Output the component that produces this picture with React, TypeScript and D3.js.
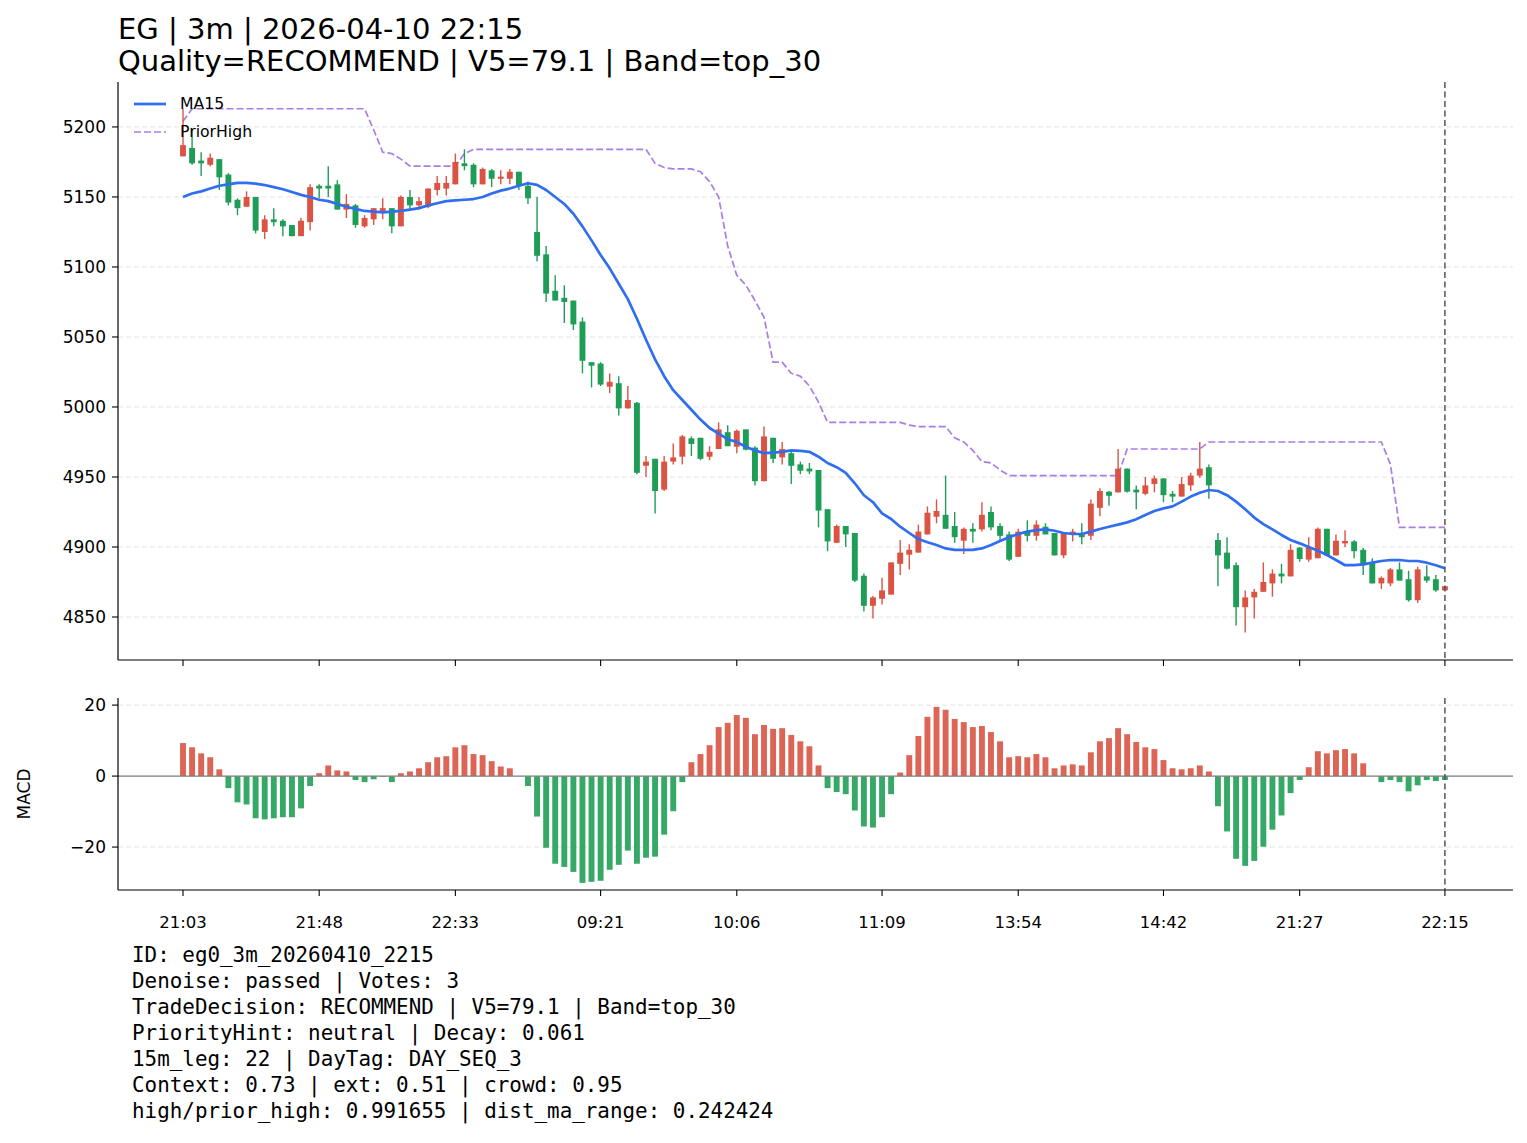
import * as d3 from 'd3';

// ---- data ----
const opens = [5179,5185,5176,5173,5177,5166,5148,5143,5150,5125,5134,5133,5130,5122,5132,5158,5158,5159,5141,5144,5129,5134,5140,5142,5129,5150,5144,5143,5155,5156,5159,5174,5173,5159,5169,5163,5163,5168,5158,5125,5109,5083,5078,5076,5061,5032,5031,5014.5,5017,4999,5003,4958,4963,4941,4961,4964.5,4977.6,4978,4964.5,4970,4982,4971.6,4984,4971,4947,4978,4964,4967,4959,4956,4955,4927,4903,4915,4910,4879.5,4858,4863,4866,4888,4894.5,4896,4909,4921.6,4923,4915,4904.5,4913,4912.6,4925,4915,4909,4893,4911,4908,4914.5,4910,4894,4909,4909,4908,4928,4939.5,4939,4956,4941,4938,4945,4949,4938,4936,4944,4951,4957,4905,4896,4887,4857,4864,4868,4874,4881,4879,4899.5,4891,4892,4913,4894,4902.6,4904,4898,4889,4874,4874,4884,4877,4862,4879,4877,4869];
const highs = [5213,5198,5182,5181,5177,5167,5149,5154,5150,5137,5142,5134,5130,5135,5159,5159,5172,5162,5152,5145,5137,5142,5149,5142,5151,5155,5150,5156,5165,5165,5181,5184,5174,5171,5170,5169,5170,5168,5161,5150,5115,5094,5087,5076,5064,5032,5032,5024,5022,5015,5003.5,4965,4963,4965,4974,4980,4979,4978,4972,4989,4987,4984,4984,4972,4986,4978,4975,4969,4961,4960,4955,4927,4916,4915,4910,4881,4865,4878,4889,4905,4902,4916,4929,4934,4951,4925,4914,4917,4932,4929,4917,4911,4913,4919,4919,4917,4910,4910,4913,4917,4934,4942,4940,4970,4956,4944,4950,4951,4949,4940,4950,4953,4975,4959,4910,4907,4889,4869,4870,4889,4884,4888,4902,4900,4907,4914,4913,4909,4912,4905,4899.5,4892,4879,4885,4889,4883,4886,4887,4880,4872];
const lows = [5179,5173,5165,5172,5155,5144,5137,5143,5124,5120,5129,5122,5122,5122,5126,5149,5150,5141,5135,5128,5128,5130,5134,5124,5129,5141,5141,5142,5151,5151,5159,5169,5157,5159,5157,5159,5159,5155,5145,5104,5075,5076,5060,5055,5024,5014,5015,5010,4994,4999,4952,4950,4924,4940,4959,4959,4965,4962,4962,4970,4972,4967,4969,4944,4947,4960,4959,4945,4952,4952,4914,4897,4903,4900,4875,4854,4849,4859,4866,4880,4884,4896,4909,4917,4913,4903,4895,4903,4911,4912,4905,4890,4893,4904,4904.5,4909,4894,4892,4904,4902,4905,4922,4929.5,4939,4939,4927,4937,4939,4932,4932,4936,4940,4949.5,4934.5,4872,4884,4844,4839,4849,4868,4864.5,4874,4879,4889.5,4889.5,4892,4894,4894,4900,4892,4880,4874,4870,4872,4876,4861,4860,4874.5,4868,4869];
const closes = [5187,5174,5174,5178,5164,5146,5142,5150,5126,5134,5132,5129,5122,5133,5157,5156,5156,5141,5145,5130,5135,5142,5142,5129,5150,5144,5147,5156,5160,5160,5175,5172,5159,5170,5163,5164.5,5168,5158,5149,5108,5081,5076,5075,5059,5033,5029.5,5016,5018,4999,5005,4953,4961,4940,4961,4964,4979,4973.6,4963,4968,4984,4972,4983,4969.5,4947,4979,4963,4970,4958,4954.5,4954,4926,4904,4915,4909,4876,4858,4864,4869,4889,4896,4898,4911,4924.5,4925.7,4913,4907,4913,4911,4923,4914,4908,4891,4911,4908,4916,4909,4894,4910,4911,4907,4931,4940,4936.6,4956,4939.5,4939,4944,4949,4937,4936,4945,4951,4956,4944,4894,4884.5,4857,4864,4868,4875,4881,4879,4898,4891.4,4900,4913,4894,4904.5,4904.3,4897,4887,4874,4878,4884,4876,4862,4884,4876,4869,4872];
const ma15 = [5150,5152.5,5154,5156,5158,5159,5160,5160,5159.5,5158.5,5157,5155.5,5153.5,5151.5,5150,5148,5147,5145,5143,5141.5,5140,5139.5,5139,5139.5,5140,5141,5142,5144,5145.5,5147,5147.5,5148,5148.5,5150,5152.5,5154.5,5156,5158,5159.8,5158.6,5155,5150,5145,5138,5129,5119,5108.6,5099,5088,5077,5063,5048,5034,5022,5012,5005,4998,4991,4985,4981,4977,4975,4971.6,4969,4967,4967.4,4968,4969,4968.6,4968,4964.5,4960,4957,4953,4945.5,4937,4932,4924,4920,4914.5,4910,4905.7,4903.4,4901.4,4899,4898,4898,4898,4899,4901.4,4904.3,4907,4909.3,4911,4912,4912.6,4911.6,4910,4909.3,4909.3,4911,4912.9,4914.5,4916,4917.6,4919.8,4922.9,4925.7,4927.6,4929,4932.4,4936,4938.8,4940.7,4940,4937,4932.4,4927,4921,4916.4,4912.6,4908.6,4905,4902.6,4900,4897.4,4894.3,4890.7,4887,4887,4887.6,4888.8,4890,4890.7,4890.7,4890,4890,4888.8,4887,4884.8];
const priorHigh = [5204,5213,5213,5213,5213,5213,5213,5213,5213,5213,5213,5213,5213,5213,5213,5213,5213,5213,5213,5213,5213,5198,5182,5181,5177,5172,5172,5172,5172,5172,5172,5181,5184,5184,5184,5184,5184,5184,5184,5184,5184,5184,5184,5184,5184,5184,5184,5184,5184,5184,5184,5184,5174,5171,5170,5170,5170,5168,5161,5150,5115,5094,5087,5076,5064,5032,5032,5024,5022,5015,5003.5,4989,4989,4989,4989,4989,4989,4989,4989,4989,4987,4986,4986,4986,4986,4978,4975,4969,4961,4960,4955,4951,4951,4951,4951,4951,4951,4951,4951,4951,4951,4951,4951,4951,4970,4970,4970,4970,4970,4970,4970,4970,4970,4975,4975,4975,4975,4975,4975,4975,4975,4975,4975,4975,4975,4975,4975,4975,4975,4975,4975,4975,4975,4959,4914,4914,4914,4914,4914,4914];
const macd = [9.3,8.1,6.4,5.3,1.9,-3.4,-7.4,-8.0,-11.9,-12.2,-11.9,-11.6,-11.6,-9.1,-2.8,0.8,3.0,1.6,1.3,-1.1,-1.7,-0.9,-0.2,-1.7,0.8,1.3,2.2,3.9,5.3,5.6,8.1,8.7,6.2,5.9,4.2,2.7,2.2,0.0,-2.8,-11.4,-20.2,-24.7,-25.6,-27.0,-30.1,-29.8,-29.5,-26.4,-25.0,-21.0,-24.7,-23.0,-22.7,-16.5,-9.9,-1.7,3.9,6.2,8.7,13.8,15.0,17.2,16.4,11.8,14.4,13.3,13.5,11.6,9.8,8.4,3.0,-3.4,-4.5,-5.1,-9.7,-14.2,-14.5,-11.6,-5.1,1.0,5.9,11.3,16.7,19.5,18.7,16.1,15.2,13.8,14.1,12.4,9.8,5.3,5.6,5.3,6.2,5.3,2.2,3.0,3.3,3.0,6.7,9.8,10.7,13.5,11.8,9.6,8.1,7.6,4.5,2.2,1.9,2.2,3.0,1.3,-8.5,-15.6,-23.3,-25.3,-23.9,-19.9,-15.1,-11.1,-4.8,-1.1,2.5,7.0,6.4,7.3,7.6,6.4,3.6,0.0,-1.7,-1.1,-1.7,-4.3,-2.6,-1.1,-1.4,-1.1];

const tickIdx = [0, 15, 30, 46, 61, 77, 92, 108, 123, 139];
const tickTimes = ['21:03', '21:48', '22:33', '09:21', '10:06', '11:09', '13:54', '14:42', '21:27', '22:15'];
const priceTicks = [4850, 4900, 4950, 5000, 5050, 5100, 5150, 5200];
const macdTicks = [-20, 0, 20];

const titleLines = ['EG | 3m | 2026-04-10 22:15', 'Quality=RECOMMEND | V5=79.1 | Band=top_30'];
const infoLines = [
  'ID: eg0_3m_20260410_2215',
  'Denoise: passed | Votes: 3',
  'TradeDecision: RECOMMEND | V5=79.1 | Band=top_30',
  'PriorityHint: neutral | Decay: 0.061',
  '15m_leg: 22 | DayTag: DAY_SEQ_3',
  'Context: 0.73 | ext: 0.51 | crowd: 0.95',
  'high/prior_high: 0.991655 | dist_ma_range: 0.242424',
];

const W = 1527;
const H = 1143;
const LEFT = 118;
const RIGHT = 1513;
const MAIN = { top: 82, bottom: 660 };
const SUB = { top: 698, bottom: 890 };
const TICK = 6;

const UP = '#db5343';
const DOWN = '#1e9d57';
const BAR_UP = '#dc6555';
const BAR_DOWN = '#37a967';
const FONT = '"DejaVu Sans", sans-serif';

export default function App() {
  const x = d3.scaleLinear().domain([-7.16, 146.5]).range([LEFT, RIGHT]);
  const y = d3.scaleLinear().domain([4819.3, 5232.1]).range([MAIN.bottom, MAIN.top]);
  const ym = d3.scaleLinear().domain([-32.1, 22]).range([SUB.bottom, SUB.top]);
  const bw = x(0.65) - x(0);

  const maLine = d3.line<number>().x((_, i) => x(i)).y((d) => y(d))(ma15) ?? '';
  const phLine = d3.line<number>().x((_, i) => x(i)).y((d) => y(d))(priorHigh) ?? '';
  const last = x(opens.length - 1);

  return (
    <svg width={W} height={H} style={{ position: 'absolute', left: 0, top: 0, background: '#fff' }}>
      <rect width={W} height={H} fill="#fff" />

      {/* titles */}
      {titleLines.map((t, i) => (
        <text key={t} x={LEFT} y={39 + i * 32} fontFamily={FONT} fontSize={29} fill="#000">{t}</text>
      ))}

      {/* main panel grid */}
      {priceTicks.map((v) => (
        <line key={v} x1={LEFT} x2={RIGHT} y1={y(v)} y2={y(v)} stroke="#e3e3e3" strokeWidth={1} strokeDasharray="5,3" />
      ))}

      {/* prior high */}
      <path d={phLine} fill="none" stroke="#a97de6" strokeWidth={1.7} strokeDasharray="7,3" />

      {/* candles */}
      {opens.map((o, i) => {
        const c = closes[i];
        const col = c >= o ? UP : DOWN;
        const top = y(Math.max(o, c));
        const h = Math.max(1, y(Math.min(o, c)) - top);
        return (
          <g key={i}>
            <line x1={x(i)} x2={x(i)} y1={y(highs[i])} y2={y(lows[i])} stroke={col} strokeWidth={1.4} />
            <rect x={x(i) - bw / 2} y={top} width={bw} height={h} fill={col} />
          </g>
        );
      })}

      {/* MA15 */}
      <path d={maLine} fill="none" stroke="#2f6ef0" strokeWidth={2.7} strokeLinejoin="round" />

      {/* main axes */}
      <line x1={LEFT} x2={LEFT} y1={MAIN.top} y2={MAIN.bottom} stroke="#000" strokeWidth={1.2} />
      <line x1={LEFT} x2={RIGHT} y1={MAIN.bottom} y2={MAIN.bottom} stroke="#000" strokeWidth={1.2} />
      {priceTicks.map((v) => (
        <g key={v}>
          <line x1={LEFT - TICK} x2={LEFT} y1={y(v)} y2={y(v)} stroke="#000" strokeWidth={1.1} />
          <text x={LEFT - 12} y={y(v)} dy="0.35em" textAnchor="end" fontFamily={FONT} fontSize={17}>{v}</text>
        </g>
      ))}
      {tickIdx.map((t) => (
        <line key={t} x1={x(t)} x2={x(t)} y1={MAIN.bottom} y2={MAIN.bottom + TICK} stroke="#000" strokeWidth={1.1} />
      ))}

      {/* legend */}
      <line x1={134} x2={166} y1={104} y2={104} stroke="#2f6ef0" strokeWidth={2.7} />
      <text x={180} y={104} dy="0.35em" fontFamily={FONT} fontSize={15.7}>MA15</text>
      <line x1={134} x2={166} y1={132} y2={132} stroke="#a97de6" strokeWidth={1.7} strokeDasharray="7,3" />
      <text x={180} y={132} dy="0.35em" fontFamily={FONT} fontSize={15.7}>PriorHigh</text>

      {/* MACD panel */}
      {macdTicks.map((v) => (
        <line key={v} x1={LEFT} x2={RIGHT} y1={ym(v)} y2={ym(v)} stroke="#e3e3e3" strokeWidth={1} strokeDasharray="5,3" />
      ))}
      {macd.map((v, i) => (
        <rect key={i} x={x(i) - bw / 2} y={ym(Math.max(0, v))} width={bw} height={Math.abs(ym(v) - ym(0))} fill={v >= 0 ? BAR_UP : BAR_DOWN} />
      ))}
      <line x1={LEFT} x2={RIGHT} y1={ym(0)} y2={ym(0)} stroke="#808080" strokeWidth={1.3} />
      <line x1={LEFT} x2={LEFT} y1={SUB.top} y2={SUB.bottom} stroke="#000" strokeWidth={1.2} />
      <line x1={LEFT} x2={RIGHT} y1={SUB.bottom} y2={SUB.bottom} stroke="#000" strokeWidth={1.2} />
      {macdTicks.map((v) => (
        <g key={v}>
          <line x1={LEFT - TICK} x2={LEFT} y1={ym(v)} y2={ym(v)} stroke="#000" strokeWidth={1.1} />
          <text x={LEFT - 12} y={ym(v)} dy="0.35em" textAnchor="end" fontFamily={FONT} fontSize={17}>
            {v < 0 ? `\u2212${-v}` : v}
          </text>
        </g>
      ))}
      <text transform={`translate(30,${(SUB.top + SUB.bottom) / 2}) rotate(-90)`} textAnchor="middle" fontFamily={FONT} fontSize={17}>MACD</text>
      {tickIdx.map((t, k) => (
        <g key={t}>
          <line x1={x(t)} x2={x(t)} y1={SUB.bottom} y2={SUB.bottom + TICK} stroke="#000" strokeWidth={1.1} />
          <text x={x(t)} y={SUB.bottom + 38} textAnchor="middle" fontFamily={FONT} fontSize={16.5}>{tickTimes[k]}</text>
        </g>
      ))}

      {/* last bar marker */}
      <line x1={last} x2={last} y1={MAIN.top} y2={MAIN.bottom} stroke="#555" strokeWidth={1.5} strokeDasharray="6,3.5" />
      <line x1={last} x2={last} y1={SUB.top} y2={SUB.bottom} stroke="#555" strokeWidth={1.5} strokeDasharray="6,3.5" />

      {/* info block */}
      {infoLines.map((t, i) => (
        <text key={t} x={132} y={962 + i * 26} fontFamily='"DejaVu Sans Mono", monospace' fontSize={20.9} xmlSpace="preserve">{t}</text>
      ))}
    </svg>
  );
}
